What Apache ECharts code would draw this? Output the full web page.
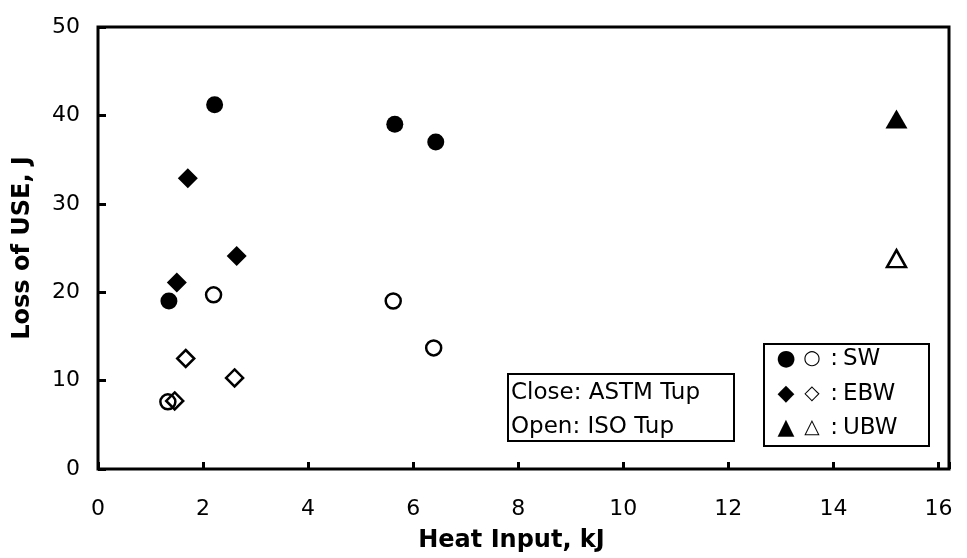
<!DOCTYPE html>
<html>
<head>
<meta charset="utf-8">
<script src="https://cdn.jsdelivr.net/npm/echarts@6/dist/echarts.min.js"></script>
<style>
html,body{margin:0;padding:0;background:#fff;}
#chart{width:967px;height:558px;}
</style>
</head>
<body>
<div id="chart"></div>
<script>
// Heat input (kJ) and loss of USE (J)
var swAstmX = [1.35, 2.22, 5.65, 6.43];
var swAstmY = [19.0, 41.2, 39.0, 37.0];
var swIsoX = [1.33, 2.2, 5.62, 6.39];
var swIsoY = [7.6, 19.7, 19.0, 13.7];
var ebwAstmX = [1.5, 1.71, 2.64];
var ebwAstmY = [21.1, 32.9, 24.1];
var ebwIsoX = [1.46, 1.67, 2.6];
var ebwIsoY = [7.7, 12.5, 10.3];
var ubwAstmX = [15.2];
var ubwAstmY = [39.6];
var ubwIsoX = [15.2];
var ubwIsoY = [23.8];
var xTicks = [0, 2, 4, 6, 8, 10, 12, 14, 16];
var yTicks = [0, 10, 20, 30, 40, 50];
var legendFilled = ['\u25CF', '\u25C6', '\u25B2'];
var legendOpen = ['\u25CB', '\u25C7', '\u25B3'];
var legendNames = ['SW', 'EBW', 'UBW'];
var noteLines = ['Close: ASTM Tup', 'Open: ISO Tup'];

function pairs(xs, ys) { return xs.map(function (x, i) { return [x, ys[i]]; }); }

var FONT = '"DejaVu Sans", Arial, sans-serif';
var chart = echarts.init(document.getElementById('chart'));

var filled = { color: '#000', opacity: 1 };
var open = { color: 'rgba(0,0,0,0)', borderColor: '#000', borderWidth: 2.5, opacity: 1 };

var graphics = [
  { type: 'rect', z: 100, left: 507, top: 373, shape: { width: 226, height: 67 }, style: { fill: '#fff', stroke: '#000', lineWidth: 2 } },
  { type: 'text', z: 101, left: 511, top: 376, style: { text: noteLines.join('\n'), font: '23px ' + FONT, fill: '#000', lineHeight: 34 } },
  { type: 'rect', z: 100, left: 763, top: 343, shape: { width: 165, height: 102 }, style: { fill: '#fff', stroke: '#000', lineWidth: 2 } }
];
var rowY = [359, 394, 428];
legendNames.forEach(function (n, i) {
  graphics.push({ type: 'text', z: 101, x: 786, y: rowY[i], style: { text: legendFilled[i], font: '22px ' + FONT, fill: '#000', align: 'center', verticalAlign: 'middle' } });
  graphics.push({ type: 'text', z: 101, x: 812, y: rowY[i], style: { text: legendOpen[i], font: '20px ' + FONT, fill: '#000', align: 'center', verticalAlign: 'middle' } });
  graphics.push({ type: 'text', z: 101, x: 834, y: rowY[i], style: { text: ':', font: '23px ' + FONT, fill: '#000', align: 'center', verticalAlign: 'middle' } });
  graphics.push({ type: 'text', z: 101, x: 843, y: rowY[i], style: { text: n, font: '23px ' + FONT, fill: '#000', align: 'left', verticalAlign: 'middle' } });
});

chart.setOption({
  animation: false,
  backgroundColor: '#fff',
  grid: { left: 98, right: 18, top: 27, bottom: 89, show: true, borderColor: '#000', borderWidth: 3, backgroundColor: 'rgba(0,0,0,0)' },
  xAxis: {
    type: 'value', min: 0, max: 16.2, interval: 2,
    name: 'Heat Input, kJ', nameLocation: 'middle', nameGap: 60,
    nameTextStyle: { fontFamily: FONT, fontSize: 24, fontWeight: 'bold', color: '#000', padding: [0, 24, 0, 0] },
    axisLine: { show: false },
    axisTick: { show: true, inside: true, length: 7, lineStyle: { color: '#000', width: 3 } },
    splitLine: { show: false },
    axisLabel: {
      margin: 29, fontFamily: FONT, fontSize: 22, color: '#000',
      formatter: function (v) { return xTicks.indexOf(v) >= 0 ? String(v) : ''; }
    }
  },
  yAxis: {
    type: 'value', min: 0, max: 50, interval: 10,
    name: 'Loss of USE, J', nameLocation: 'middle', nameGap: 63,
    nameTextStyle: { fontFamily: FONT, fontSize: 24, fontWeight: 'bold', color: '#000' },
    axisLine: { show: false },
    axisTick: { show: true, inside: true, length: 8, lineStyle: { color: '#000', width: 3 } },
    splitLine: { show: false },
    axisLabel: {
      margin: 18, fontFamily: FONT, fontSize: 22, color: '#000',
      formatter: function (v) { return yTicks.indexOf(v) >= 0 ? String(v) : ''; }
    }
  },
  series: [
    { name: 'SW ASTM', type: 'scatter', symbol: 'circle', symbolSize: 17, itemStyle: filled, data: pairs(swAstmX, swAstmY) },
    { name: 'SW ISO', type: 'scatter', symbol: 'circle', symbolSize: 15, itemStyle: open, data: pairs(swIsoX, swIsoY) },
    { name: 'EBW ASTM', type: 'scatter', symbol: 'diamond', symbolSize: [20, 20], itemStyle: filled, data: pairs(ebwAstmX, ebwAstmY) },
    { name: 'EBW ISO', type: 'scatter', symbol: 'diamond', symbolSize: [17, 17], itemStyle: open, data: pairs(ebwIsoX, ebwIsoY) },
    { name: 'UBW ASTM', type: 'scatter', symbol: 'triangle', symbolSize: [22, 19], itemStyle: filled, data: pairs(ubwAstmX, ubwAstmY) },
    { name: 'UBW ISO', type: 'scatter', symbol: 'triangle', symbolSize: [19, 17], itemStyle: open, data: pairs(ubwIsoX, ubwIsoY) }
  ],
  graphic: graphics
});
</script>
</body>
</html>
